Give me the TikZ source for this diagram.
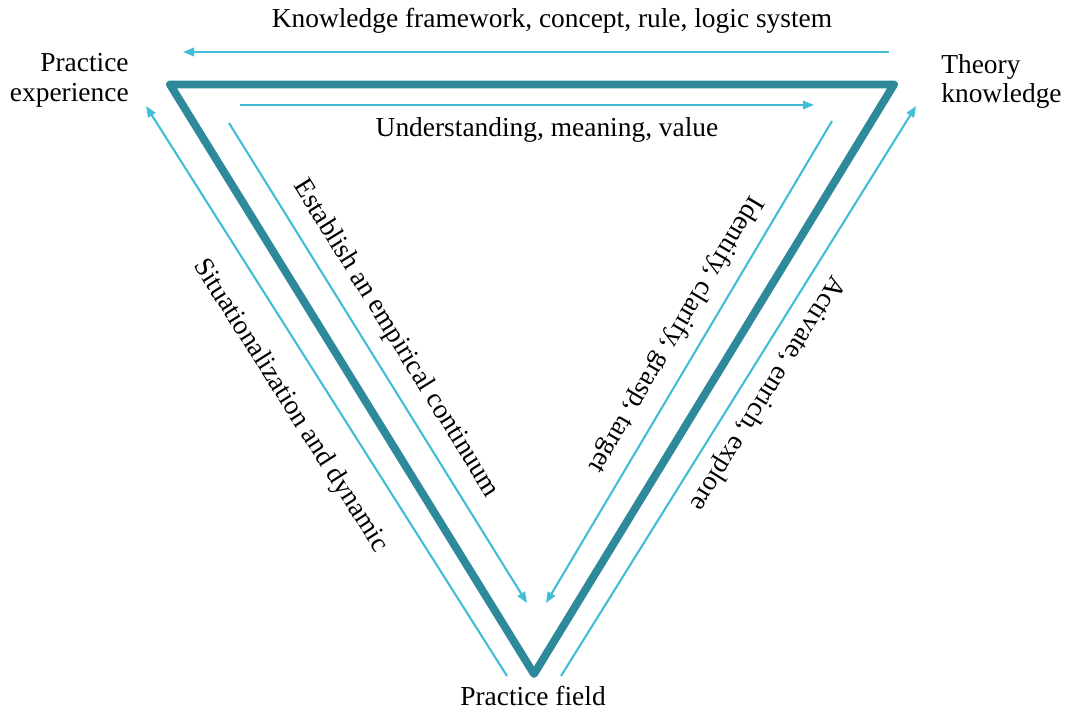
\documentclass[tikz,border=0pt]{standalone}
\usepackage{fontspec}
\setmainfont{Liberation Serif}
\usetikzlibrary{arrows.meta}
\definecolor{tribteal}{RGB}{46,137,155}
\definecolor{triblue}{RGB}{66,189,216}

\begin{document}
\begin{tikzpicture}[
  lbl/.style={font=\fontsize{15.6}{17}\selectfont, inner sep=0pt},
  side/.style={tribteal, line width=4.5pt, line join=round},
  flow/.style={triblue, line width=1.2pt, -{Triangle[length=0.22cm,width=0.17cm]}},
  along/.style={lbl, sloped, allow upside down}
]
\useasboundingbox (0,0) rectangle (21.34,14.22);

% Corners
\coordinate (pe) at (3.40,12.53);
\coordinate (tk) at (17.88,12.53);
\coordinate (pf) at (10.68,0.74);

% Triangle
\draw[side] (pe) -- (tk) -- (pf) -- cycle;

% Arrow ends
\coordinate (topS) at (17.78,13.18);
\coordinate (topE) at (3.66,13.18);
\coordinate (inS) at (4.80,12.12);
\coordinate (inE) at (16.28,12.12);
\coordinate (loS) at (10.14,0.70);
\coordinate (loE) at (2.92,12.10);
\coordinate (liS) at (4.58,11.76);
\coordinate (liE) at (10.54,2.16);
\coordinate (riS) at (16.64,11.80);
\coordinate (riE) at (10.92,2.16);
\coordinate (roS) at (11.22,0.70);
\coordinate (roE) at (18.32,12.10);

% Arrows
\draw[flow] (topS) -- (topE);
\draw[flow] (inS) -- (inE);
\draw[flow] (loS) -- (loE);
\draw[flow] (liS) -- (liE);
\draw[flow] (riS) -- (riE);
\draw[flow] (roS) -- (roE);

% Labels
\node[lbl, anchor=base] (know) at (11.04,13.66) {Knowledge framework, concept, rule, logic system};
\node[lbl, anchor=base] (under) at (10.94,11.50) {Understanding, meaning, value};
\node[lbl, anchor=base] (field) at (10.66,0.12) {Practice field};
\node[lbl, align=right, anchor=east] (pexp) at (2.58,12.61) {Practice\\experience};
\node[lbl, align=left, anchor=west] (tknow) at (18.82,12.59) {Theory\\knowledge};

% Side labels
\path (liS) -- (liE) node[along, pos=0.48, yshift=0.56cm] (est) {Establish an empirical continuum};
\path (loE) -- (loS) node[along, pos=0.49, yshift=-0.77cm] (sit) {Situationalization and dynamic};
\path (riS) -- (riE) node[along, pos=0.47, yshift=-0.52cm] (ident) {Identify, clarify, grasp, target};
\path (roE) -- (roS) node[along, pos=0.48, yshift=0.50cm] (act) {Activate, enrich, explore};
\end{tikzpicture}
\end{document}
